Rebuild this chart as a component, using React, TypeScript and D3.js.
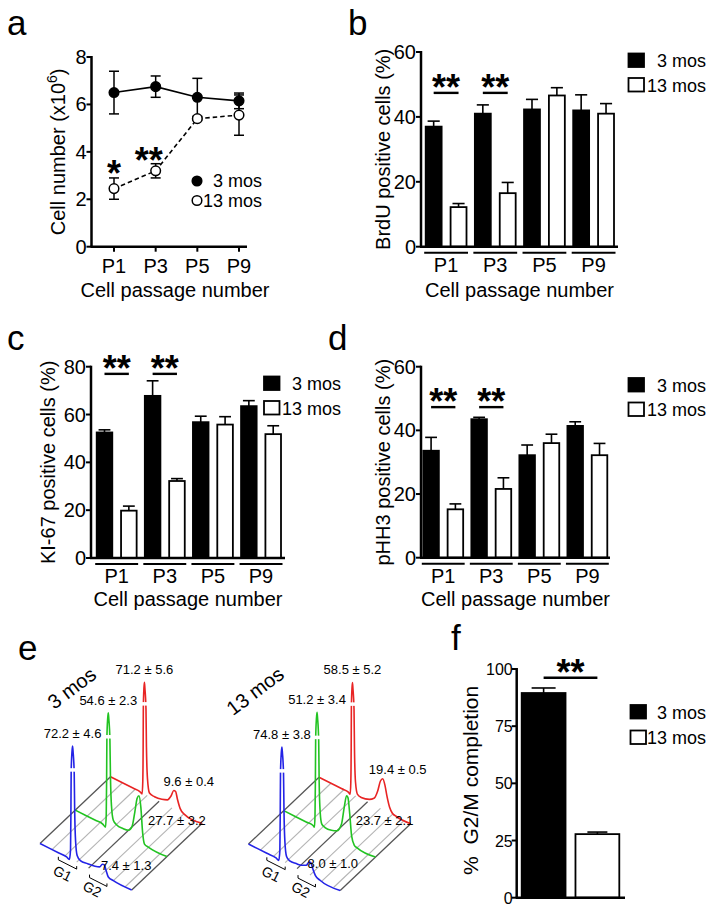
import React from "react";
import * as d3 from "d3";

const FONT = "'Liberation Sans', Arial, Helvetica, sans-serif";

// ---------- shared categories ----------
const passages = ["P1", "P3", "P5", "P9"];
const ages = ["3 mos", "13 mos"];

// ---------- panel a : cell number (x10^6) ----------
const cellNumber3 = [6.5, 6.75, 6.3, 6.15];
const cellNumber3Err = [0.9, 0.45, 0.8, 0.33];
const cellNumber13 = [2.45, 3.2, 5.4, 5.55];
const cellNumber13Err = [0.45, 0.3, 0.05, 0.85];
const cellNumberTicks = [0, 2, 4, 6, 8];
const cellNumberSig = ["*", "**", "", ""];

// ---------- panel b : BrdU ----------
const brdu3 = [37, 41, 42.3, 42];
const brdu3Err = [1.7, 2.7, 3.1, 4.8];
const brdu13 = [12.2, 16.5, 46.6, 41];
const brdu13Err = [1.1, 3.3, 2.4, 3.1];
const brduTicks = [0, 20, 40, 60];

// ---------- panel c : KI-67 ----------
const ki3 = [52.5, 67.8, 56.8, 63.5];
const ki3Err = [1.1, 6.3, 2.5, 2.3];
const ki13 = [19.8, 32.2, 55.8, 51.8];
const ki13Err = [1.9, 1.0, 3.3, 3.5];
const kiTicks = [0, 20, 40, 60, 80];

// ---------- panel d : pHH3 ----------
const ph3 = [33.6, 43.5, 32.2, 41.4];
const ph3Err = [4.2, 0.6, 3.2, 1.3];
const ph13 = [15.2, 21.6, 36, 32.2];
const ph13Err = [1.7, 3.5, 2.8, 3.7];
const phTicks = [0, 20, 40, 60];

// significant passages in b, c, d
const sigPassages = ["P1", "P3"];

// ---------- panel f : G2/M completion ----------
const g2mValues = [89.5, 27.8];
const g2mErr = [2.2, 0.9];
const g2mTicks = [0, 25, 50, 75, 100];

// ---------- panel e : DNA-content histograms (channel, relative count) ----------
const histColors = ["#2323e6", "#22c322", "#e82424"];
const histDepths = [0, 0.5, 1];
const blue3: [number, number][] = [[0, 0], [20, 0], [29, 0], [32, -1], [33.3, 8], [33.7, 40], [34, 77], [34.9, 95], [35.5, 100], [36.1, 95], [37.3, 77], [37.8, 45], [38.8, 18], [40.5, 6], [44, 3], [52, 3.5], [60, 4.5], [65, 6], [68, 9.5], [70, 10], [72, 6], [74.5, 1], [80, 0], [100, 0]];
const green3: [number, number][] = [[0, 0], [22, 0], [30, 0], [33, -1.5], [33.8, 10], [34.2, 40], [34.5, 77], [35.4, 95], [36, 100], [36.6, 95], [37.8, 77], [38.4, 45], [39.5, 20], [41.5, 8], [45, 5.5], [52, 5], [58, 6], [62, 11], [65, 25], [67.5, 38], [69.5, 41], [71.5, 32], [73.5, 10], [75.5, 1], [80, 0], [100, 0]];
const red3: [number, number][] = [[0, 0], [25, 0], [32, 0], [34.5, -1], [35.2, 10], [35.6, 40], [35.8, 75], [36.5, 93], [37, 98], [37.5, 93], [38.7, 75], [39.2, 42], [40.3, 15], [42.5, 3], [48, 2], [56, 3], [62, 5], [66, 10], [69, 16], [71, 16], [73, 10], [76, 3], [80, 0], [100, 0]];
const blue13: [number, number][] = [[0, 0], [20, 0], [30, 0], [33, -1], [34.2, 8], [34.6, 40], [34.9, 77], [35.8, 95], [36.4, 100], [37, 95], [38.2, 77], [38.7, 45], [39.7, 18], [41.5, 6], [45, 3.5], [52, 4], [58, 5], [63, 7], [66, 11], [68, 11.5], [70, 7], [73, 2], [78, 0], [100, 0]];
const green13: [number, number][] = [[0, 0], [25, 0], [32, 0], [33.5, -1], [34.1, 10], [34.5, 40], [34.8, 77], [35.7, 96], [36.3, 101], [36.9, 96], [38.1, 77], [38.6, 42], [39.7, 15], [41.5, 5], [45, 3.5], [52, 4], [58, 6], [63, 14], [66, 30], [68.5, 41], [70, 40], [72, 26], [74, 8], [77, 1], [80, 0], [100, 0]];
const red13: [number, number][] = [[0, 0], [25, 0], [32, 0], [34, -1], [34.7, 10], [35.1, 40], [35.3, 75], [36, 93], [36.5, 98], [37, 93], [38.2, 75], [38.7, 40], [39.8, 12], [42, 2], [46, 1], [55, 3], [60, 6], [64, 14], [67, 24], [69.5, 27], [72, 22], [74, 14], [77, 5], [80, 1], [84, 0], [100, 0]];
const hist3mos = [blue3, green3, red3];
const hist13mos = [blue13, green13, red13];
const g1Labels3 = ["72.2 ± 4.6", "54.6 ± 2.3", "71.2 ± 5.6"];
const g2Labels3 = ["7.4 ± 1.3", "27.7 ± 3.2", "9.6 ± 0.4"];
const g1Labels13 = ["74.8 ± 3.8", "51.2 ± 3.4", "58.5 ± 5.2"];
const g2Labels13 = ["8.0 ± 1.0", "23.7 ± 2.1", "19.4 ± 0.5"];
const gridChannels = [0, 13, 27, 40, 53, 67, 80, 93, 100];
const darkGridChannels = [0, 53, 100];
const g1Range = [20, 40];
const g2Range = [54, 73];

// ---------------------------------------------------------------------------

const AX = 2.5; // axis stroke

function Legend({ x, textX, y, gap, kind }: { x: number; textX: number; y: number; gap: number; kind: "square" | "circle" }) {
  return (
    <g fontFamily={FONT} fontSize={18}>
      {ages.map((a, i) => {
        const by = y + i * gap;
        return (
          <g key={a}>
            {kind === "square" ? (
              <rect x={x} y={by - 13.5} width={15.5} height={13.5} fill={i === 0 ? "#000" : "#fff"} stroke="#000" strokeWidth={1.8} />
            ) : (
              <circle cx={x} cy={by - 6} r={4.8} fill={i === 0 ? "#000" : "#fff"} stroke="#000" strokeWidth={1.5} />
            )}
            <text x={textX} y={by} textAnchor="end">{a}</text>
          </g>
        );
      })}
    </g>
  );
}

type BarProps = {
  axisX: number; axisEnd: number; top: number; bottom: number; yMax: number; ticks: number[];
  bandStart: number; bandEnd: number;
  v3: number[]; e3: number[]; v13: number[]; e13: number[];
  sigValue: number; ylabel: string; ylabelX: number;
  legendX: number; legendTextX: number; legendY: number;
  xlabelY: number;
};

function BarPanel(p: BarProps) {
  const y = d3.scaleLinear().domain([0, p.yMax]).range([p.bottom, p.top]);
  const xg = d3.scaleBand().domain(passages).range([p.bandStart, p.bandEnd]).paddingInner(0.17);
  const xs = d3.scaleBand().domain(ages).range([0, xg.bandwidth()]).paddingInner(0.36);
  const bw = xs.bandwidth();
  const series = [
    { v: p.v3, e: p.e3, fill: "#000" },
    { v: p.v13, e: p.e13, fill: "#fff" },
  ];
  return (
    <g fontFamily={FONT}>
      {series.map((s, si) =>
        passages.map((ps, i) => {
          const x0 = (xg(ps) as number) + (xs(ages[si]) as number);
          const cx = x0 + bw / 2;
          return (
            <g key={ps + si}>
              <line x1={cx} x2={cx} y1={y(s.v[i])} y2={y(s.v[i] + s.e[i])} stroke="#000" strokeWidth={1.6} />
              <line x1={cx - bw * 0.38} x2={cx + bw * 0.38} y1={y(s.v[i] + s.e[i])} y2={y(s.v[i] + s.e[i])} stroke="#000" strokeWidth={1.6} />
              <rect x={x0} y={y(s.v[i])} width={bw} height={y(0) - y(s.v[i])} fill={s.fill} stroke="#000" strokeWidth={1.8} />
            </g>
          );
        })
      )}
      {sigPassages.map((ps) => {
        const x1 = (xg(ps) as number) + (xs(ages[0]) as number) + bw / 2;
        const x2 = (xg(ps) as number) + (xs(ages[1]) as number) + bw / 2;
        return (
          <g key={ps}>
            <line x1={x1} x2={x2} y1={y(p.sigValue)} y2={y(p.sigValue)} stroke="#000" strokeWidth={2.4} />
            <text x={(x1 + x2) / 2} y={y(p.sigValue) + 7} textAnchor="middle" fontSize={36} fontWeight="bold">**</text>
          </g>
        );
      })}
      <line x1={p.axisX} x2={p.axisX} y1={p.top - 1} y2={p.bottom} stroke="#000" strokeWidth={AX} />
      <line x1={p.axisX - 1} x2={p.axisEnd} y1={p.bottom} y2={p.bottom} stroke="#000" strokeWidth={AX} />
      {p.ticks.map((t) => (
        <g key={t}>
          <line x1={p.axisX - 5} x2={p.axisX} y1={y(t)} y2={y(t)} stroke="#000" strokeWidth={2} />
          <text x={p.axisX - 5} y={y(t) + 7} textAnchor="end" fontSize={20}>{t}</text>
        </g>
      ))}
      {passages.map((ps) => (
        <g key={ps}>
          <line x1={(xg(ps) as number) - 1.5} x2={(xg(ps) as number) + xg.bandwidth() + 1.5} y1={p.bottom + 6} y2={p.bottom + 6} stroke="#000" strokeWidth={2} />
          <text x={(xg(ps) as number) + xg.bandwidth() / 2} y={p.bottom + 25} textAnchor="middle" fontSize={20}>{ps}</text>
        </g>
      ))}
      <text x={(p.axisX + p.axisEnd) / 2} y={p.xlabelY} textAnchor="middle" fontSize={20}>Cell passage number</text>
      <text transform={`translate(${p.ylabelX},${(p.top + p.bottom) / 2}) rotate(-90)`} textAnchor="middle" fontSize={20}>{p.ylabel}</text>
      <Legend x={p.legendX} textX={p.legendTextX} y={p.legendY} gap={24.5} kind="square" />
    </g>
  );
}

function PanelA() {
  const axisX = 91.5, axisEnd = 247, top = 57, bottom = 246.7;
  const y = d3.scaleLinear().domain([0, 8]).range([bottom, top]);
  const x = d3.scalePoint().domain(passages).range([114, 239]);
  const line = d3.line<number>().x((_, i) => x(passages[i]) as number).y((d) => y(d));
  const series = [
    { v: cellNumber3, e: cellNumber3Err, fill: "#000", dash: undefined as string | undefined },
    { v: cellNumber13, e: cellNumber13Err, fill: "#fff", dash: "4.5 3" },
  ];
  const sigOffsetX = [0, -7, 0, 0];
  const sigGap = [5, 4, 0, 0];
  return (
    <g fontFamily={FONT}>
      {series.map((s, si) => (
        <g key={si}>
          <path d={line(s.v) as string} fill="none" stroke="#000" strokeWidth={1.6} strokeDasharray={s.dash} />
          {s.v.map((v, i) => {
            const cx = x(passages[i]) as number;
            return (
              <g key={i}>
                <line x1={cx} x2={cx} y1={y(v - s.e[i])} y2={y(v + s.e[i])} stroke="#000" strokeWidth={1.5} />
                <line x1={cx - 5} x2={cx + 5} y1={y(v + s.e[i])} y2={y(v + s.e[i])} stroke="#000" strokeWidth={1.5} />
                <line x1={cx - 5} x2={cx + 5} y1={y(v - s.e[i])} y2={y(v - s.e[i])} stroke="#000" strokeWidth={1.5} />
              </g>
            );
          })}
        </g>
      ))}
      {series.map((s, si) =>
        s.v.map((v, i) => (
          <circle key={si + "-" + i} cx={x(passages[i]) as number} cy={y(v)} r={4.8} fill={s.fill} stroke="#000" strokeWidth={1.5} />
        ))
      )}
      {cellNumberSig.map((sg, i) =>
        sg ? (
          <text key={i} x={(x(passages[i]) as number) + sigOffsetX[i]} y={y(cellNumber13[i] + cellNumber13Err[i]) - sigGap[i] + 13} textAnchor="middle" fontSize={36} fontWeight="bold">{sg}</text>
        ) : null
      )}
      <line x1={axisX} x2={axisX} y1={top - 1} y2={bottom} stroke="#000" strokeWidth={AX} />
      <line x1={axisX - 1} x2={axisEnd} y1={bottom} y2={bottom} stroke="#000" strokeWidth={AX} />
      {cellNumberTicks.map((t) => (
        <g key={t}>
          <line x1={axisX - 5} x2={axisX} y1={y(t)} y2={y(t)} stroke="#000" strokeWidth={2} />
          <text x={axisX - 5} y={y(t) + 7} textAnchor="end" fontSize={20}>{t}</text>
        </g>
      ))}
      {passages.map((ps) => (
        <g key={ps}>
          <line x1={x(ps) as number} x2={x(ps) as number} y1={bottom} y2={bottom + 5} stroke="#000" strokeWidth={2} />
          <text x={x(ps) as number} y={bottom + 26.5} textAnchor="middle" fontSize={20}>{ps}</text>
        </g>
      ))}
      <text x={175} y={297} textAnchor="middle" fontSize={20}>Cell passage number</text>
      <text transform={`translate(65,${(top + bottom) / 2}) rotate(-90)`} textAnchor="middle" fontSize={20}>
        Cell number (x10<tspan dy={-8} fontSize={14}>6</tspan><tspan dy={8}>)</tspan>
      </text>
      <Legend x={197} textX={262} y={187} gap={19.5} kind="circle" />
    </g>
  );
}

function Histogram({ ox, oy, title, tx, ty, profiles, g1Labels, g2Labels }: {
  ox: number; oy: number; title: string; tx: number; ty: number;
  profiles: [number, number][][]; g1Labels: string[]; g2Labels: string[];
}) {
  const fx = d3.scaleLinear().domain([0, 100]).range([0, 91.7]);
  const fy = d3.scaleLinear().domain([0, 100]).range([0, 46.5]);
  const dx = d3.scaleLinear().domain([0, 1]).range([0, 70.5]);
  const dy = d3.scaleLinear().domain([0, 1]).range([0, -66.8]);
  const h = d3.scaleLinear().domain([0, 100]).range([0, 114]);
  const proj = (c: number, d: number, v: number): [number, number] => [ox + fx(c) + dx(d), oy + fy(c) + dy(d) - h(v)];
  const line = d3.line<[number, number]>().curve(d3.curveMonotoneX);
  const g2Offsets: [number, number][] = [[22, 5], [38, 29], [15, -5]];
  const angle = (Math.atan2(46.5, 91.7) * 180) / Math.PI;
  const bracket = (r: number[], off: number) => {
    const a = proj(r[0], 0, 0), b = proj(r[1], 0, 0);
    return `M${a[0]},${a[1] + off - 3}L${a[0]},${a[1] + off}L${b[0]},${b[1] + off}L${b[0]},${b[1] + off - 3}`;
  };
  return (
    <g fontFamily={FONT}>
      {gridChannels.map((c) => {
        const a = proj(c, 0, 0), b = proj(c, 1, 0);
        const dark = darkGridChannels.includes(c);
        return <line key={c} x1={a[0]} y1={a[1]} x2={b[0]} y2={b[1]} stroke={dark ? "#555" : "#b4b4b4"} strokeWidth={dark ? 1.3 : 1.1} />;
      })}
      {[2, 1, 0].map((si) => {
        const prof = profiles[si];
        const pts = prof.map(([c, v]) => proj(c, histDepths[si], v));
        const g1 = prof.reduce((m, d) => (d[1] > m[1] ? d : m));
        const g2 = prof.filter((d) => d[0] > 55).reduce((m, d) => (d[1] > m[1] ? d : m));
        const brk = proj(g1[0], histDepths[si], 79);
        const tip1 = proj(g1[0], histDepths[si], g1[1]);
        const tip2 = proj(g2[0], histDepths[si], g2[1]);
        return (
          <g key={si}>
            <path d={line(pts) as string} fill="none" stroke={histColors[si]} strokeWidth={1.6} />
            <line x1={brk[0] - 5} x2={brk[0] + 5} y1={brk[1]} y2={brk[1]} stroke="#fff" strokeWidth={3.5} />
            <text x={tip1[0]} y={tip1[1] - 8} textAnchor="middle" fontSize={13}>{g1Labels[si]}</text>
            <text x={tip2[0] + g2Offsets[si][0]} y={tip2[1] + g2Offsets[si][1]} textAnchor="middle" fontSize={13}>{g2Labels[si]}</text>
          </g>
        );
      })}
      <path d={bracket(g1Range, 7)} fill="none" stroke="#000" strokeWidth={1} />
      <path d={bracket(g2Range, 9)} fill="none" stroke="#000" strokeWidth={1} />
      {[{ r: g1Range, off: 7, t: "G1", d: [-5, 9] }, { r: g2Range, off: 9, t: "G2", d: [-6, 7] }].map((b) => {
        const m = proj((b.r[0] + b.r[1]) / 2, 0, 0);
        return (
          <text key={b.t} transform={`translate(${m[0] + b.d[0]},${m[1] + b.off + b.d[1]}) rotate(${angle})`} textAnchor="middle" dominantBaseline="central" fontSize={14}>{b.t}</text>
        );
      })}
      <text transform={`translate(${tx},${ty}) rotate(-37)`} textAnchor="middle" dominantBaseline="central" fontSize={20}>{title}</text>
    </g>
  );
}

function PanelF() {
  const axisX = 516.7, axisEnd = 625, top = 669, bottom = 897.7;
  const y = d3.scaleLinear().domain([0, 100]).range([bottom, top]);
  const x = d3.scaleBand().domain(ages).range([521.7, 619.3]).paddingInner(0.185);
  const bw = x.bandwidth();
  const c0 = (x(ages[0]) as number) + bw / 2, c1 = (x(ages[1]) as number) + bw / 2;
  return (
    <g fontFamily={FONT}>
      {ages.map((a, i) => {
        const cx = (x(a) as number) + bw / 2;
        const cap = i === 0 ? 12 : 10;
        return (
          <g key={a}>
            <line x1={cx} x2={cx} y1={y(g2mValues[i])} y2={y(g2mValues[i] + g2mErr[i])} stroke="#000" strokeWidth={1.6} />
            <line x1={cx - cap} x2={cx + cap} y1={y(g2mValues[i] + g2mErr[i])} y2={y(g2mValues[i] + g2mErr[i])} stroke="#000" strokeWidth={1.6} />
            <rect x={x(a) as number} y={y(g2mValues[i])} width={bw} height={y(0) - y(g2mValues[i])} fill={i === 0 ? "#000" : "#fff"} stroke="#000" strokeWidth={1.8} />
          </g>
        );
      })}
      <line x1={c0} x2={c1} y1={y(96.2)} y2={y(96.2)} stroke="#000" strokeWidth={2.4} />
      <text x={(c0 + c1) / 2} y={y(96.2) + 7} textAnchor="middle" fontSize={36} fontWeight="bold">**</text>
      <line x1={axisX} x2={axisX} y1={top - 1} y2={bottom} stroke="#000" strokeWidth={AX} />
      <line x1={axisX - 1} x2={axisEnd} y1={bottom} y2={bottom} stroke="#000" strokeWidth={AX} />
      {g2mTicks.map((t) => (
        <g key={t}>
          <line x1={axisX - 5} x2={axisX} y1={y(t)} y2={y(t)} stroke="#000" strokeWidth={2} />
          <text x={axisX - 4} y={y(t) + 6} textAnchor="end" fontSize={16}>{t}</text>
        </g>
      ))}
      <text transform={`translate(478,${(top + bottom) / 2 - 3}) rotate(-90)`} textAnchor="middle" fontSize={21} xmlSpace="preserve">%  G2/M completion</text>
      <Legend x={630.5} textX={706} y={718.5} gap={25.5} kind="square" />
    </g>
  );
}

export default function App() {
  return (
    <svg width={718} height={912} viewBox="0 0 718 912" style={{ position: "absolute", left: 0, top: 0, background: "#fff" }}>
      <rect x={0} y={0} width={718} height={912} fill="#fff" />
      <g fontFamily={FONT} fontSize={35}>
        <text x={7} y={35}>a</text>
        <text x={348} y={35}>b</text>
        <text x={7} y={350}>c</text>
        <text x={328} y={350}>d</text>
        <text x={18} y={660}>e</text>
        <text x={451} y={650}>f</text>
      </g>
      <PanelA />
      <BarPanel axisX={421} axisEnd={618} top={52} bottom={246.7} yMax={60} ticks={brduTicks}
        bandStart={425.7} bandEnd={614} v3={brdu3} e3={brdu3Err} v13={brdu13} e13={brdu13Err}
        sigValue={47.4} ylabel="BrdU positive cells (%)" ylabelX={390}
        legendX={628.5} legendTextX={706} legendY={67} xlabelY={297} />
      <BarPanel axisX={91} axisEnd={285} top={366.7} bottom={558} yMax={80} ticks={kiTicks}
        bandStart={96.7} bandEnd={281} v3={ki3} e3={ki3Err} v13={ki13} e13={ki13Err}
        sigValue={77} ylabel="KI-67 positive cells (%)" ylabelX={55}
        legendX={264} legendTextX={341} legendY={390} xlabelY={606} />
      <BarPanel axisX={421} axisEnd={610} top={366.7} bottom={557.7} yMax={60} ticks={phTicks}
        bandStart={423.3} bandEnd={607.3} v3={ph3} e3={ph3Err} v13={ph13} e13={ph13Err}
        sigValue={47.3} ylabel="pHH3 positive cells (%)" ylabelX={390}
        legendX={628.5} legendTextX={706} legendY={391.5} xlabelY={606} />
      <Histogram ox={40} oy={843.5} title="3 mos" tx={71.7} ty={688} profiles={hist3mos} g1Labels={g1Labels3} g2Labels={g2Labels3} />
      <Histogram ox={248.5} oy={844} title="13 mos" tx={255} ty={691} profiles={hist13mos} g1Labels={g1Labels13} g2Labels={g2Labels13} />
      <PanelF />
    </svg>
  );
}
